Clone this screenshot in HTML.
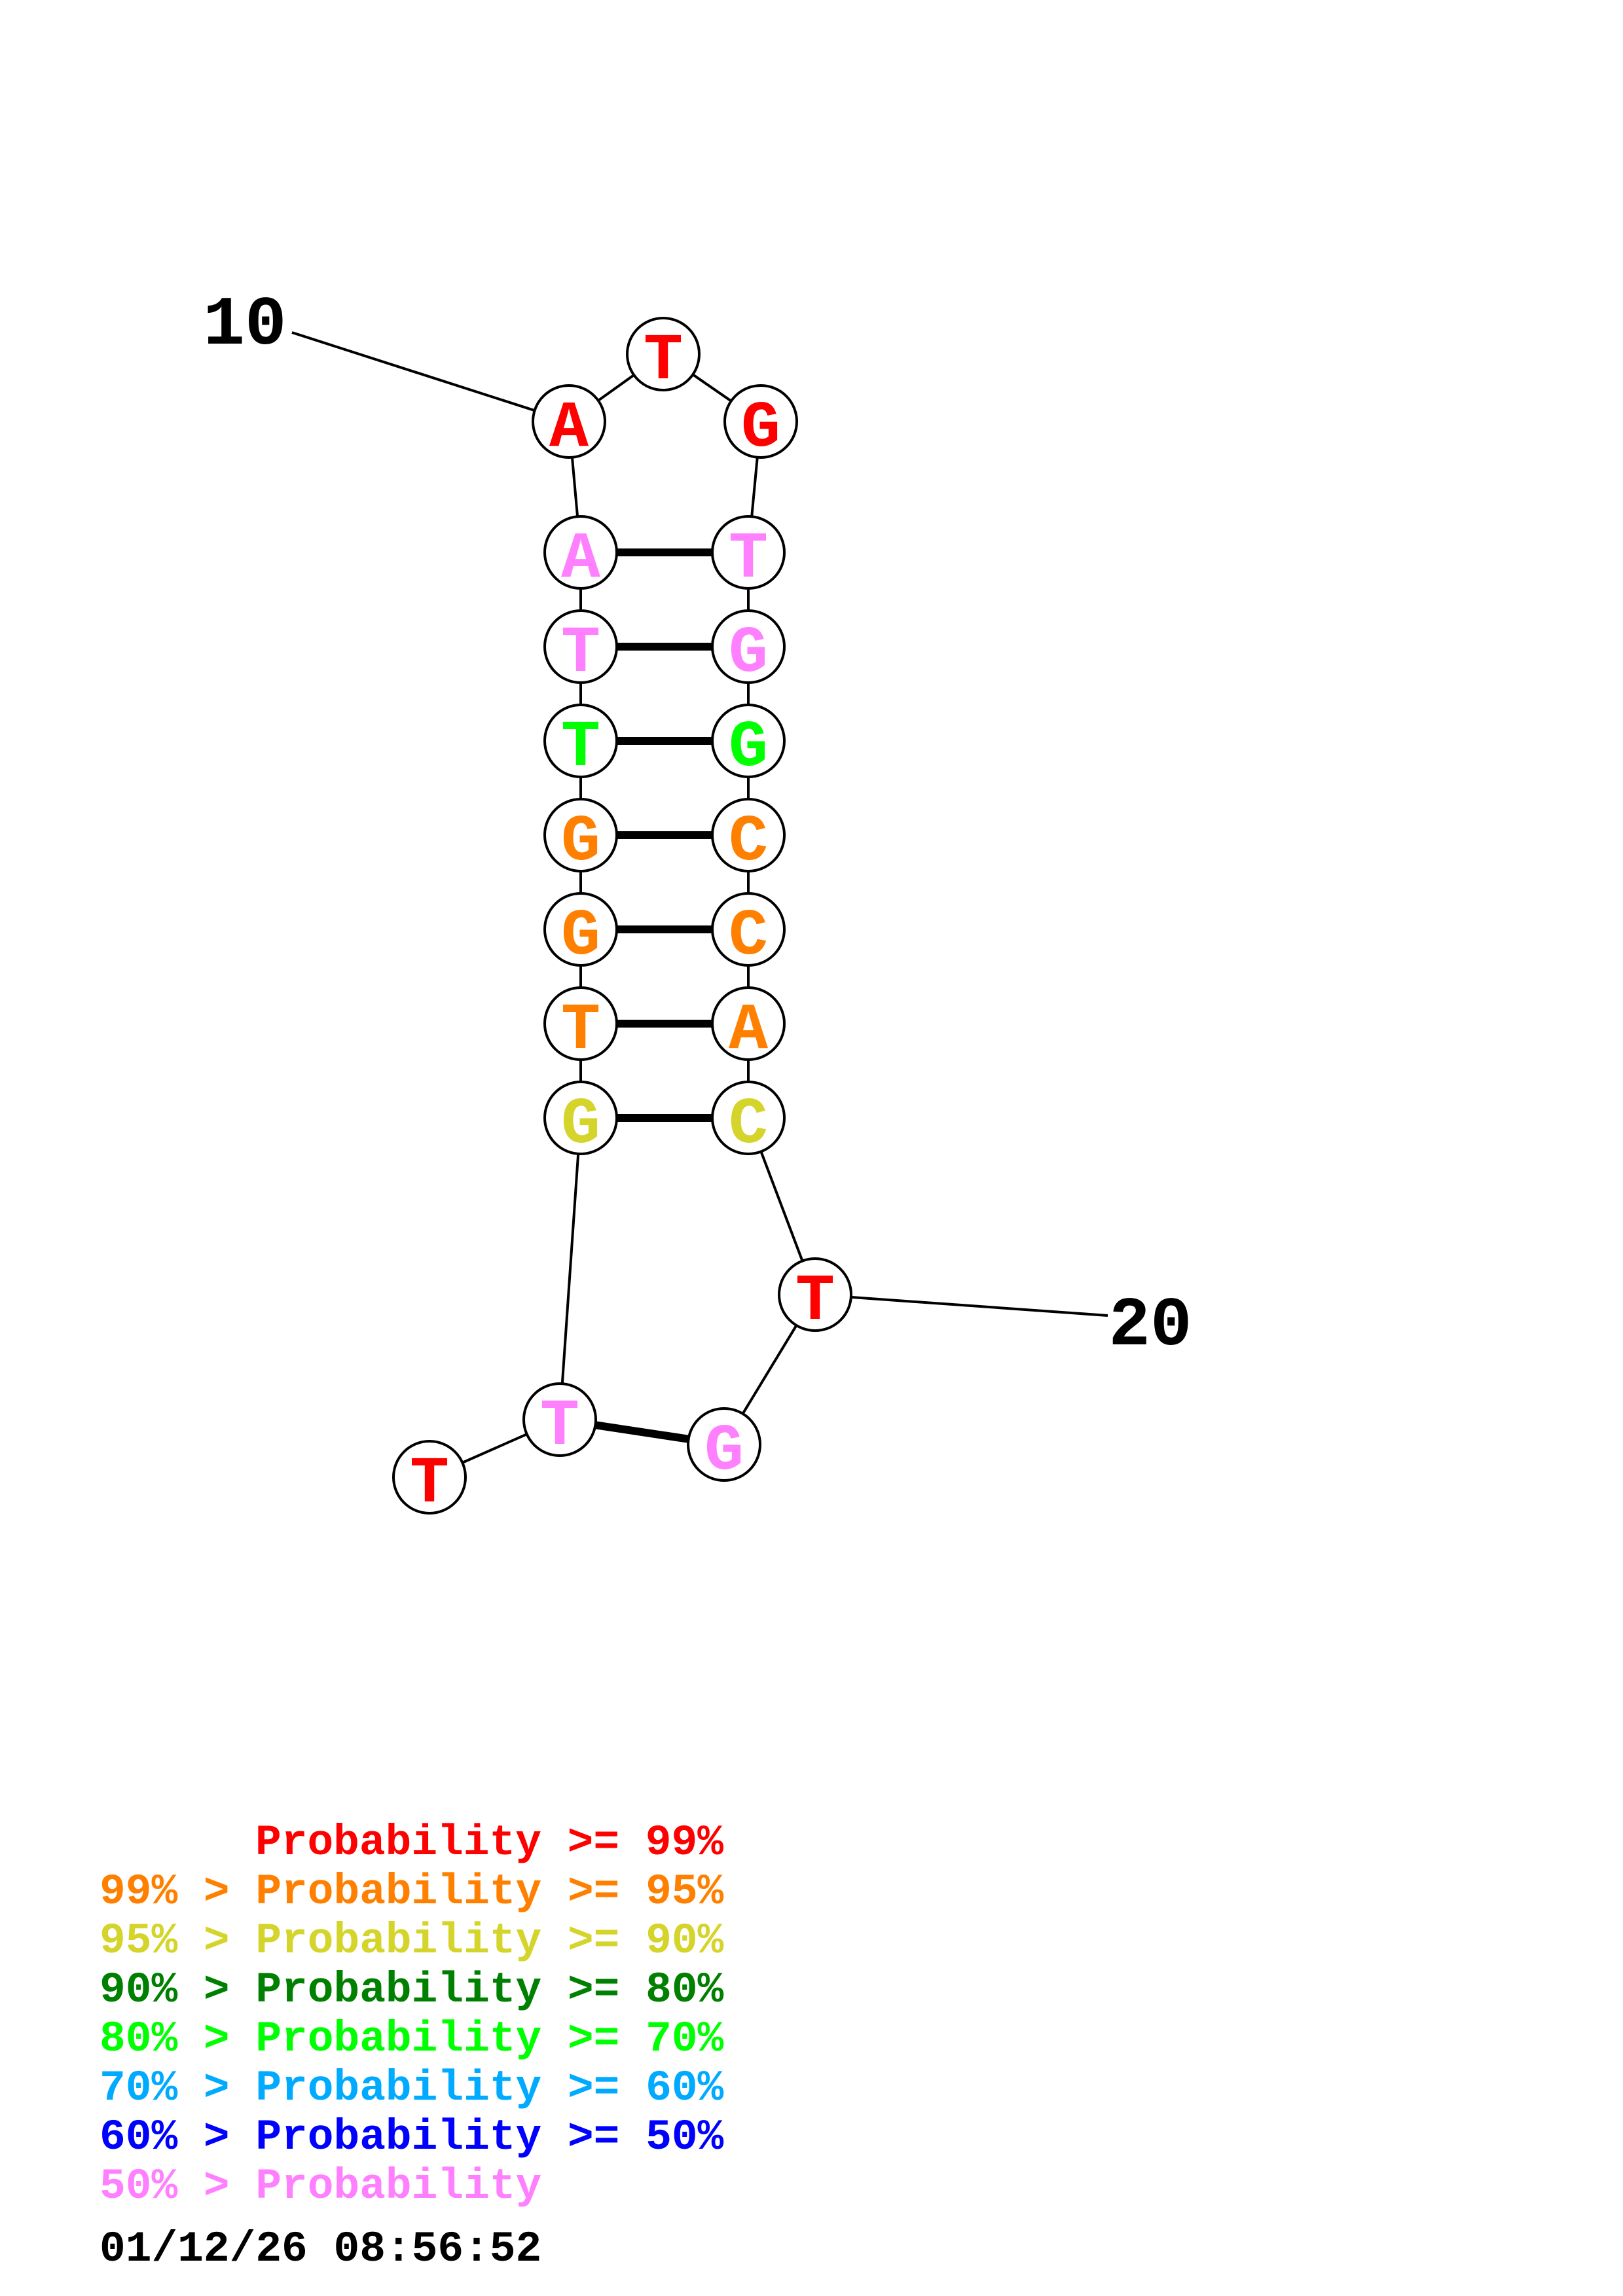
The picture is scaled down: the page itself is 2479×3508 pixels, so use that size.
<!DOCTYPE html>
<html>
<head>
<meta charset="utf-8">
<style>
html,body{margin:0;padding:0;background:#fff;}
svg{display:block;}
.n{font-family:"Liberation Mono","DejaVu Sans Mono",monospace;font-weight:bold;font-size:100px;text-anchor:middle;}
.lbl{font-family:"Liberation Mono","DejaVu Sans Mono",monospace;font-weight:bold;font-size:106px;text-anchor:middle;fill:#000;}
.lg{font-family:"Liberation Mono","DejaVu Sans Mono",monospace;font-weight:bold;font-size:66.2px;}
</style>
</head>
<body>
<svg width="2479" height="3508" viewBox="0 0 2479 3508" xmlns="http://www.w3.org/2000/svg">
<rect x="0" y="0" width="2479" height="3508" fill="#fff"/>
<g stroke="#000" stroke-width="4" fill="none">
  <line x1="446" y1="508" x2="869" y2="644"/>
  <line x1="869" y1="644" x2="1013" y2="541"/>
  <line x1="1013" y1="541" x2="1162" y2="644"/>
  <line x1="869" y1="644" x2="887" y2="844"/>
  <line x1="1162" y1="644" x2="1143" y2="844"/>
  <line x1="887" y1="844" x2="887" y2="1708"/>
  <line x1="1143" y1="844" x2="1143" y2="1708"/>
  <line x1="887" y1="1708" x2="855" y2="2169"/>
  <line x1="1143" y1="1708" x2="1245" y2="1978"/>
  <line x1="1245" y1="1978" x2="1106" y2="2207"/>
  <line x1="855" y1="2169" x2="656" y2="2257"/>
  <line x1="1245" y1="1978" x2="1692" y2="2010"/>
</g>
<g stroke="#000" stroke-width="12">
  <line x1="887" y1="844" x2="1143" y2="844"/>
  <line x1="887" y1="988" x2="1143" y2="988"/>
  <line x1="887" y1="1132" x2="1143" y2="1132"/>
  <line x1="887" y1="1276" x2="1143" y2="1276"/>
  <line x1="887" y1="1420" x2="1143" y2="1420"/>
  <line x1="887" y1="1564" x2="1143" y2="1564"/>
  <line x1="887" y1="1708" x2="1143" y2="1708"/>
  <line x1="855" y1="2169" x2="1106" y2="2207"/>
</g>
<g stroke="#000" stroke-width="4" fill="#fff">
  <circle cx="869" cy="644" r="55"/>
  <circle cx="1013" cy="541" r="55"/>
  <circle cx="1162" cy="644" r="55"/>
  <circle cx="887" cy="844" r="55"/>
  <circle cx="887" cy="988" r="55"/>
  <circle cx="887" cy="1132" r="55"/>
  <circle cx="887" cy="1276" r="55"/>
  <circle cx="887" cy="1420" r="55"/>
  <circle cx="887" cy="1564" r="55"/>
  <circle cx="887" cy="1708" r="55"/>
  <circle cx="1143" cy="844" r="55"/>
  <circle cx="1143" cy="988" r="55"/>
  <circle cx="1143" cy="1132" r="55"/>
  <circle cx="1143" cy="1276" r="55"/>
  <circle cx="1143" cy="1420" r="55"/>
  <circle cx="1143" cy="1564" r="55"/>
  <circle cx="1143" cy="1708" r="55"/>
  <circle cx="1245" cy="1978" r="55"/>
  <circle cx="1106" cy="2207" r="55"/>
  <circle cx="855" cy="2169" r="55"/>
  <circle cx="656" cy="2257" r="55"/>
</g>
<g class="n">
  <text x="869" y="681" fill="#FF0000">A</text>
  <text x="1013" y="578" fill="#FF0000">T</text>
  <text x="1162" y="681" fill="#FF0000">G</text>
  <text x="887" y="881" fill="#FF80FF">A</text>
  <text x="887" y="1025" fill="#FF80FF">T</text>
  <text x="887" y="1169" fill="#00FF00">T</text>
  <text x="887" y="1313" fill="#FF8000">G</text>
  <text x="887" y="1457" fill="#FF8000">G</text>
  <text x="887" y="1601" fill="#FF8000">T</text>
  <text x="887" y="1745" fill="#D4D42A">G</text>
  <text x="1143" y="881" fill="#FF80FF">T</text>
  <text x="1143" y="1025" fill="#FF80FF">G</text>
  <text x="1143" y="1169" fill="#00FF00">G</text>
  <text x="1143" y="1313" fill="#FF8000">C</text>
  <text x="1143" y="1457" fill="#FF8000">C</text>
  <text x="1143" y="1601" fill="#FF8000">A</text>
  <text x="1143" y="1745" fill="#D4D42A">C</text>
  <text x="1245" y="2015" fill="#FF0000">T</text>
  <text x="1106" y="2244" fill="#FF80FF">G</text>
  <text x="855" y="2206" fill="#FF80FF">T</text>
  <text x="656" y="2294" fill="#FF0000">T</text>
</g>
<text class="lbl" x="374" y="525">10</text>
<text class="lbl" x="1757" y="2054">20</text>
<g class="lg">
  <text x="390" y="2833" fill="#FF0000">Probability &gt;= 99%</text>
  <text x="152" y="2908" fill="#FF8000">99% &gt; Probability &gt;= 95%</text>
  <text x="152" y="2983" fill="#D4D42A">95% &gt; Probability &gt;= 90%</text>
  <text x="152" y="3058" fill="#008000">90% &gt; Probability &gt;= 80%</text>
  <text x="152" y="3133" fill="#00FF00">80% &gt; Probability &gt;= 70%</text>
  <text x="152" y="3208" fill="#00AAFF">70% &gt; Probability &gt;= 60%</text>
  <text x="152" y="3283" fill="#0000FF">60% &gt; Probability &gt;= 50%</text>
  <text x="152" y="3358" fill="#FF80FF">50% &gt; Probability</text>
  <text x="152" y="3454" fill="#000000">01/12/26 08:56:52</text>
</g>
</svg>
</body>
</html>
